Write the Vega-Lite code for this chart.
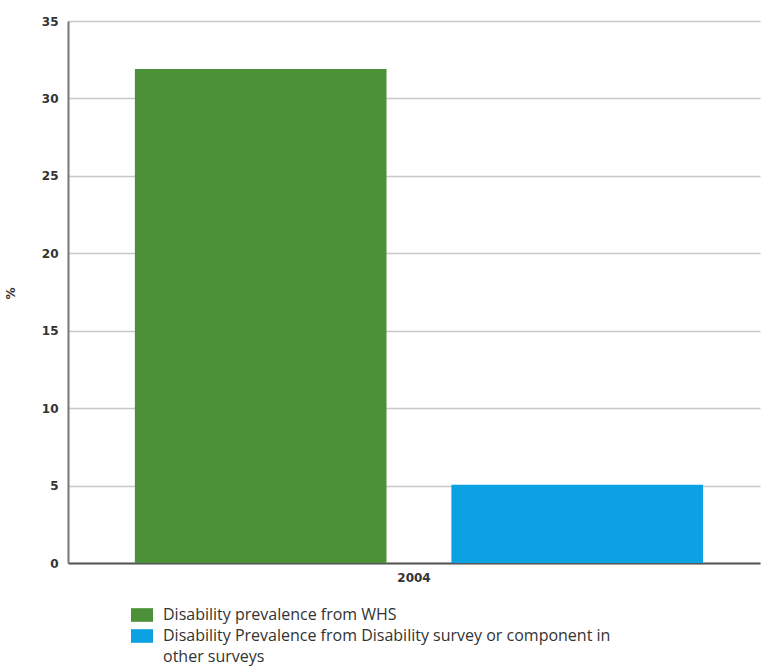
{
  "$schema": "https://vega.github.io/schema/vega-lite/v6.json",
  "autosize": {"type": "none"},
  "padding": {"left": 68, "top": 21, "right": 1, "bottom": 103},
  "width": 692,
  "height": 542,
  "background": "white",
  "data": {
    "values": [
      {"year": "2004", "series": "Disability prevalence from WHS", "value": 31.9},
      {"year": "2004", "series": "Disability Prevalence from Disability survey or component in", "value": 5.05}
    ]
  },
  "mark": {"type": "bar"},
  "encoding": {
    "x": {
      "field": "year", "type": "nominal", "title": null,
      "scale": {"paddingInner": 0, "paddingOuter": 0},
      "axis": {"labelAngle": 0, "labelFont": "DejaVu Sans", "labelFontWeight": "bold", "labelFontSize": 12, "labelColor": "#333", "labelPadding": 9, "ticks": false, "domainColor": "#555", "domainWidth": 2}
    },
    "xOffset": {
      "field": "series", "type": "nominal",
      "sort": ["Disability prevalence from WHS", "Disability Prevalence from Disability survey or component in"],
      "scale": {"paddingInner": 0.205, "paddingOuter": 0.1956, "align": 0.54}
    },
    "y": {
      "field": "value", "type": "quantitative", "title": "%",
      "scale": {"domain": [0, 35], "nice": false},
      "axis": {"values": [0, 5, 10, 15, 20, 25, 30, 35], "labelFont": "DejaVu Sans", "labelFontWeight": "bold", "labelFontSize": 12, "labelColor": "#333", "labelPadding": 10, "ticks": false, "domainColor": "#777", "domainWidth": 2, "gridColor": "#c8c8c8", "gridWidth": 1.5, "titleFont": "DejaVu Sans", "titleFontWeight": "bold", "titleFontSize": 12, "titleColor": "#333", "titleAngle": -90, "titleX": -51, "titleY": 272}
    },
    "color": {
      "field": "series", "type": "nominal",
      "scale": {"domain": ["Disability prevalence from WHS", "Disability Prevalence from Disability survey or component in", "other surveys"], "range": ["#4c9038", "#0ba1e2", "rgba(255,255,255,0)"]},
      "legend": {
        "title": null, "orient": "none", "legendX": 63, "legendY": 583, "direction": "vertical",
        "symbolType": "M-1,-0.62H1V0.62H-1Z", "symbolSize": 484, "symbolStrokeWidth": 0,
        "labelFont": "Open Sans", "labelFontSize": 16, "labelColor": "#333", "labelLimit": 600, "labelOffset": 10, "rowPadding": 2,
        "symbolOffset": 0
      }
    }
  },
  "config": {"view": {"stroke": null}}
}
